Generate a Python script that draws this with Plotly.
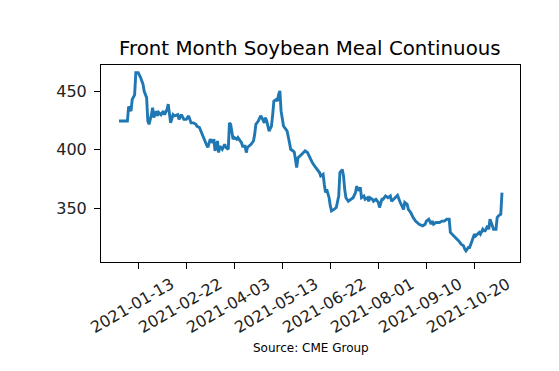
import plotly.graph_objects as go

dates = [
    "2020-12-28", "2021-01-04", "2021-01-05", "2021-01-07", "2021-01-08", "2021-01-10",
    "2021-01-11", "2021-01-13", "2021-01-15", "2021-01-17", "2021-01-18", "2021-01-20",
    "2021-01-21", "2021-01-22", "2021-01-24", "2021-01-25", "2021-01-26", "2021-01-28",
    "2021-01-29", "2021-01-30", "2021-02-01", "2021-02-03", "2021-02-04", "2021-02-06",
    "2021-02-07", "2021-02-09", "2021-02-11", "2021-02-12", "2021-02-15", "2021-02-16",
    "2021-02-18", "2021-02-20", "2021-02-22", "2021-02-24", "2021-02-26", "2021-02-28",
    "2021-03-02", "2021-03-03", "2021-03-05", "2021-03-07", "2021-03-09", "2021-03-11",
    "2021-03-12", "2021-03-14", "2021-03-16", "2021-03-17", "2021-03-18", "2021-03-20",
    "2021-03-21", "2021-03-22", "2021-03-24", "2021-03-26", "2021-03-27", "2021-03-29",
    "2021-03-30", "2021-03-31", "2021-04-02", "2021-04-03", "2021-04-05", "2021-04-06",
    "2021-04-07", "2021-04-09", "2021-04-10", "2021-04-12", "2021-04-13", "2021-04-14",
    "2021-04-17", "2021-04-19", "2021-04-20", "2021-04-21", "2021-04-23", "2021-04-25",
    "2021-04-26", "2021-04-28", "2021-04-29", "2021-04-30", "2021-05-02", "2021-05-04",
    "2021-05-05", "2021-05-06", "2021-05-08", "2021-05-09", "2021-05-10", "2021-05-11",
    "2021-05-12", "2021-05-14", "2021-05-16", "2021-05-17", "2021-05-19", "2021-05-20",
    "2021-05-22", "2021-05-23", "2021-05-25", "2021-05-26", "2021-05-29", "2021-05-31",
    "2021-06-01", "2021-06-03", "2021-06-05", "2021-06-06", "2021-06-07", "2021-06-09",
    "2021-06-11", "2021-06-13", "2021-06-14", "2021-06-16", "2021-06-17", "2021-06-18",
    "2021-06-19", "2021-06-20", "2021-06-21", "2021-06-22", "2021-06-23", "2021-06-25",
    "2021-06-27", "2021-06-29", "2021-06-30", "2021-07-02", "2021-07-03", "2021-07-04",
    "2021-07-05", "2021-07-07", "2021-07-09", "2021-07-11", "2021-07-13", "2021-07-14",
    "2021-07-15", "2021-07-17", "2021-07-18", "2021-07-20", "2021-07-21", "2021-07-23",
    "2021-07-24", "2021-07-25", "2021-07-27", "2021-07-28", "2021-07-30", "2021-08-01",
    "2021-08-02", "2021-08-04", "2021-08-05", "2021-08-07", "2021-08-09", "2021-08-11",
    "2021-08-12", "2021-08-14", "2021-08-16", "2021-08-17", "2021-08-19", "2021-08-20",
    "2021-08-22", "2021-08-23", "2021-08-25", "2021-08-26", "2021-08-28", "2021-08-30",
    "2021-09-01", "2021-09-04", "2021-09-07", "2021-09-09", "2021-09-10", "2021-09-12",
    "2021-09-14", "2021-09-15", "2021-09-16", "2021-09-18", "2021-09-21", "2021-09-23",
    "2021-09-25", "2021-09-27", "2021-09-29", "2021-09-30", "2021-10-03", "2021-10-05",
    "2021-10-07", "2021-10-09", "2021-10-11", "2021-10-12", "2021-10-13", "2021-10-15",
    "2021-10-16", "2021-10-18", "2021-10-20", "2021-10-21", "2021-10-23", "2021-10-24",
    "2021-10-25", "2021-10-27", "2021-10-28", "2021-10-29", "2021-10-31", "2021-11-01",
    "2021-11-02", "2021-11-04", "2021-11-05", "2021-11-07", "2021-11-08", "2021-11-09",
    "2021-11-11", "2021-11-12",
]

prices = [
    424.6, 424.6, 437.0, 433.0, 443.0, 447.0,
    466.0, 466.0, 461.7, 456.0, 450.0, 444.6,
    424.6, 421.8, 430.0, 436.0, 427.5, 433.0,
    429.0, 432.0, 430.0, 433.0, 430.0, 434.6,
    439.0, 423.0, 430.0, 429.0, 430.0, 426.0,
    430.0, 426.0, 426.0, 429.0, 423.0, 423.0,
    421.8, 420.0, 419.0, 414.7, 409.0, 404.0,
    402.0, 409.0, 406.0, 409.0, 399.0, 407.5,
    397.6, 403.0, 400.4, 404.7, 402.0, 400.4,
    423.0, 421.8, 409.0, 410.4, 409.0, 410.4,
    409.0, 406.0, 403.0, 403.0, 397.6, 402.0,
    404.7, 407.5, 413.0, 421.8, 424.6, 429.0,
    427.5, 423.0, 427.5, 424.6, 416.0, 420.3,
    430.0, 441.7, 443.0, 441.7, 447.4, 450.3,
    433.0, 420.3, 417.5, 416.0, 406.0, 400.4,
    399.0, 398.0, 384.8, 393.0, 396.0, 397.6,
    399.0, 397.6, 393.0, 390.4, 389.0, 386.0,
    383.0, 380.5, 377.6, 379.0, 370.5, 363.4,
    366.0, 362.0, 359.0, 352.0, 347.7, 349.0,
    350.6, 360.5, 380.5, 383.0, 377.6, 366.0,
    359.0, 356.0, 357.7, 359.0, 363.4, 369.0,
    365.0, 367.7, 359.0, 360.5, 357.7, 359.0,
    356.0, 359.0, 357.7, 356.0, 357.7, 355.0,
    350.6, 357.7, 357.7, 360.5, 359.0, 360.5,
    356.0, 358.0, 360.5, 361.0, 355.5, 353.4,
    349.0, 355.0, 353.4, 349.0, 346.3, 342.0,
    339.0, 336.3, 335.0, 336.3, 339.0, 340.6,
    336.3, 339.0, 336.3, 337.8, 337.8, 339.0,
    339.0, 340.6, 340.6, 329.3, 326.3, 323.5,
    322.0, 319.2, 317.8, 315.0, 313.5, 316.4,
    316.4, 322.0, 327.8, 326.3, 327.8, 329.3,
    327.8, 332.0, 330.6, 330.6, 335.0, 332.0,
    340.6, 333.5, 332.0, 332.0, 342.0, 343.4,
    344.9, 363.4,
]

tick_dates = ["2021-01-13", "2021-02-22", "2021-04-03", "2021-05-13",
              "2021-06-22", "2021-08-01", "2021-09-10", "2021-10-20"]
y_ticks = [350, 400, 450]

title_text = "Front Month Soybean Meal Continuous"
source_text = "Source: CME Group"

fig = go.Figure()
fig.add_trace(go.Scatter(
    x=dates, y=prices, mode="lines",
    line=dict(color="#1f77b4", width=2.9),
    hoverinfo="x+y", showlegend=False,
))

axis_common = dict(
    showline=True, linecolor="black", linewidth=1, mirror=True,
    ticks="outside", ticklen=6, tickcolor="black", tickwidth=1,
    showgrid=False, zeroline=False, automargin=False,
    tickfont=dict(family="DejaVu Sans", size=16, color="#222222"),
)

fig.update_layout(
    template="none",
    width=559, height=371,
    margin=dict(l=93, r=47, t=57, b=117, pad=0),
    paper_bgcolor="white", plot_bgcolor="white",
    title=dict(text=title_text, x=0.540, xanchor="center", y=0.892, yanchor="middle",
               font=dict(family="DejaVu Sans", size=19.8, color="black")),
    xaxis=dict(range=["2020-12-13", "2021-11-27"], tickvals=tick_dates,
               ticktext=tick_dates, tickangle=-30, ticklabelshift=33,
               ticklabelstandoff=0, **axis_common),
    yaxis=dict(range=[304, 472.5], tickvals=y_ticks, ticklabelstandoff=4, **axis_common),
    annotations=[dict(text=source_text, xref="paper", yref="paper",
                      x=0.5, y=-0.437, xanchor="center", yanchor="middle",
                      showarrow=False,
                      font=dict(family="DejaVu Sans", size=12, color="black"))],
)

fig.write_html("out.html")
